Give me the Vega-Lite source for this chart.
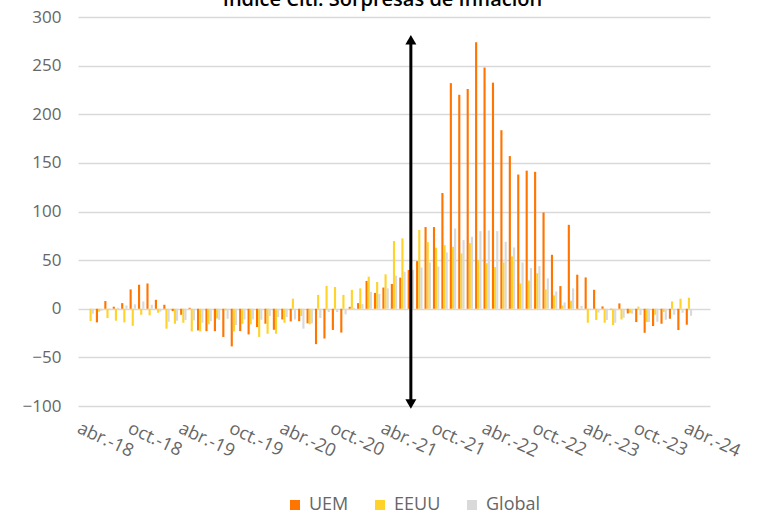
{
  "$schema": "https://vega.github.io/schema/vega-lite/v6.json",
  "autosize": {"type": "none"},
  "width": 632,
  "height": 389,
  "padding": {"left": 78, "top": 17, "right": 55, "bottom": 110},
  "background": "white",
  "title": {"text": "Índice Citi: Sorpresas de Inflación", "font": "Open Sans", "fontSize": 20, "fontWeight": 600, "color": "#000000", "anchor": "middle", "dx": -11.5, "offset": -18, "baseline": "alphabetic"},
  "config": {
    "view": {"stroke": null},
    "font": "Open Sans",
    "axis": {"labelFont": "Open Sans", "labelColor": "#666666", "labelFontSize": 17},
    "legend": {"labelFont": "Open Sans"}
  },
  "datasets": {
    "citi": [
      {"mes": "2018-05", "UEM": 0, "EEUU": -12.7, "Global": -5.1},
      {"mes": "2018-06", "UEM": -14, "EEUU": -3, "Global": -2},
      {"mes": "2018-07", "UEM": 7.9, "EEUU": -9.6, "Global": 0.5},
      {"mes": "2018-08", "UEM": 2.1, "EEUU": -12.3, "Global": 1},
      {"mes": "2018-09", "UEM": 5.8, "EEUU": -14, "Global": 3.4},
      {"mes": "2018-10", "UEM": 19.9, "EEUU": -17.5, "Global": 4.5},
      {"mes": "2018-11", "UEM": 24.7, "EEUU": -6.2, "Global": 7.5},
      {"mes": "2018-12", "UEM": 26, "EEUU": -6.8, "Global": 4.1},
      {"mes": "2019-01", "UEM": 9.2, "EEUU": -4.1, "Global": -3},
      {"mes": "2019-02", "UEM": 4.1, "EEUU": -20.5, "Global": -13.4},
      {"mes": "2019-03", "UEM": -2.4, "EEUU": -15.4, "Global": -12.3},
      {"mes": "2019-04", "UEM": -6.2, "EEUU": -14.4, "Global": -11.6},
      {"mes": "2019-05", "UEM": 1, "EEUU": -23.3, "Global": -12},
      {"mes": "2019-06", "UEM": -22.3, "EEUU": -23.3, "Global": -14.4},
      {"mes": "2019-07", "UEM": -23, "EEUU": -16, "Global": -12.7},
      {"mes": "2019-08", "UEM": -23, "EEUU": -10, "Global": -11.3},
      {"mes": "2019-09", "UEM": -29, "EEUU": -1.7, "Global": -10.3},
      {"mes": "2019-10", "UEM": -38.7, "EEUU": -23.3, "Global": -16.8},
      {"mes": "2019-11", "UEM": -23, "EEUU": -15.4, "Global": -11},
      {"mes": "2019-12", "UEM": -26.4, "EEUU": -16, "Global": -11},
      {"mes": "2020-01", "UEM": -18.8, "EEUU": -29, "Global": -11.3},
      {"mes": "2020-02", "UEM": -15.4, "EEUU": -25.7, "Global": -7.5},
      {"mes": "2020-03", "UEM": -21.6, "EEUU": -25.7, "Global": -8.6},
      {"mes": "2020-04", "UEM": -11, "EEUU": -14.4, "Global": -8.6},
      {"mes": "2020-05", "UEM": -13, "EEUU": 10.3, "Global": -11},
      {"mes": "2020-06", "UEM": -12.7, "EEUU": -7.5, "Global": -20.5},
      {"mes": "2020-07", "UEM": -15, "EEUU": -16, "Global": -15},
      {"mes": "2020-08", "UEM": -36.4, "EEUU": 14.3, "Global": -9.5},
      {"mes": "2020-09", "UEM": -30.6, "EEUU": 23.5, "Global": -3.4},
      {"mes": "2020-10", "UEM": -21.8, "EEUU": 22.4, "Global": -3.4},
      {"mes": "2020-11", "UEM": -24.5, "EEUU": 14.3, "Global": -5.8},
      {"mes": "2020-12", "UEM": 2, "EEUU": 19.4, "Global": 1},
      {"mes": "2021-01", "UEM": 5.8, "EEUU": 21, "Global": 4.8},
      {"mes": "2021-02", "UEM": 28.6, "EEUU": 33, "Global": 17.3},
      {"mes": "2021-03", "UEM": 16.3, "EEUU": 27.5, "Global": 15.3},
      {"mes": "2021-04", "UEM": 21.8, "EEUU": 35.4, "Global": 21},
      {"mes": "2021-05", "UEM": 25.5, "EEUU": 69.7, "Global": 34},
      {"mes": "2021-06", "UEM": 32, "EEUU": 72.4, "Global": 38},
      {"mes": "2021-07", "UEM": 39.8, "EEUU": 45, "Global": 40},
      {"mes": "2021-08", "UEM": 49, "EEUU": 81, "Global": 42.5},
      {"mes": "2021-09", "UEM": 84, "EEUU": 68.5, "Global": 47.6},
      {"mes": "2021-10", "UEM": 84, "EEUU": 62.7, "Global": 43.5},
      {"mes": "2021-11", "UEM": 119, "EEUU": 65.4, "Global": 57.9},
      {"mes": "2021-12", "UEM": 232, "EEUU": 63.7, "Global": 82.5},
      {"mes": "2022-01", "UEM": 220, "EEUU": 56.9, "Global": 70.6},
      {"mes": "2022-02", "UEM": 226, "EEUU": 67.5, "Global": 74},
      {"mes": "2022-03", "UEM": 274, "EEUU": 49.7, "Global": 79.8},
      {"mes": "2022-04", "UEM": 248, "EEUU": 46.9, "Global": 80.5},
      {"mes": "2022-05", "UEM": 232.5, "EEUU": 42.8, "Global": 79.8},
      {"mes": "2022-06", "UEM": 183.6, "EEUU": 47.6, "Global": 68.8},
      {"mes": "2022-07", "UEM": 157, "EEUU": 53.8, "Global": 63},
      {"mes": "2022-08", "UEM": 138, "EEUU": 26, "Global": 47.6},
      {"mes": "2022-09", "UEM": 142, "EEUU": 29, "Global": 41.8},
      {"mes": "2022-10", "UEM": 140.8, "EEUU": 36.6, "Global": 43.8},
      {"mes": "2022-11", "UEM": 99, "EEUU": 19.9, "Global": 31.2},
      {"mes": "2022-12", "UEM": 55.5, "EEUU": 13.7, "Global": 17.8},
      {"mes": "2023-01", "UEM": 23.3, "EEUU": 3.4, "Global": 6.5},
      {"mes": "2023-02", "UEM": 86.3, "EEUU": 8.2, "Global": 20.9},
      {"mes": "2023-03", "UEM": 35, "EEUU": -1, "Global": 3},
      {"mes": "2023-04", "UEM": 32.2, "EEUU": -14.4, "Global": -1.4},
      {"mes": "2023-05", "UEM": 19.5, "EEUU": -11.6, "Global": -4},
      {"mes": "2023-06", "UEM": 2.4, "EEUU": -14.4, "Global": -11.6},
      {"mes": "2023-07", "UEM": -0.5, "EEUU": -16.8, "Global": -14.4},
      {"mes": "2023-08", "UEM": 5.5, "EEUU": -11, "Global": -9.2},
      {"mes": "2023-09", "UEM": -4.8, "EEUU": -4.1, "Global": -5.1},
      {"mes": "2023-10", "UEM": -13.7, "EEUU": 2.1, "Global": -6.5},
      {"mes": "2023-11", "UEM": -24.7, "EEUU": -13.7, "Global": -13.7},
      {"mes": "2023-12", "UEM": -17.8, "EEUU": -6.2, "Global": -13.4},
      {"mes": "2024-01", "UEM": -15.4, "EEUU": -3.4, "Global": -11.3},
      {"mes": "2024-02", "UEM": -10.3, "EEUU": 7.5, "Global": -6.2},
      {"mes": "2024-03", "UEM": -21.9, "EEUU": 10.3, "Global": -4.1},
      {"mes": "2024-04", "UEM": -16.4, "EEUU": 11.3, "Global": -7.2}
    ],
    "flecha": [
      {"mes": "2021-07", "desde": -98, "hasta": 276.6}
    ]
  },
  "layer": [
    {
      "data": {"name": "citi"},
      "transform": [{"fold": ["UEM", "EEUU", "Global"], "as": ["serie", "valor"]}],
      "mark": {"type": "bar"},
      "encoding": {
        "x": {
          "field": "mes", "type": "ordinal",
          "scale": {"domain": ["2018-04","2018-05","2018-06","2018-07","2018-08","2018-09","2018-10","2018-11","2018-12","2019-01","2019-02","2019-03","2019-04","2019-05","2019-06","2019-07","2019-08","2019-09","2019-10","2019-11","2019-12","2020-01","2020-02","2020-03","2020-04","2020-05","2020-06","2020-07","2020-08","2020-09","2020-10","2020-11","2020-12","2021-01","2021-02","2021-03","2021-04","2021-05","2021-06","2021-07","2021-08","2021-09","2021-10","2021-11","2021-12","2022-01","2022-02","2022-03","2022-04","2022-05","2022-06","2022-07","2022-08","2022-09","2022-10","2022-11","2022-12","2023-01","2023-02","2023-03","2023-04","2023-05","2023-06","2023-07","2023-08","2023-09","2023-10","2023-11","2023-12","2024-01","2024-02","2024-03","2024-04","2024-05","2024-06"], "paddingInner": 0.24, "paddingOuter": 0.12},
          "axis": {
            "title": null, "domain": false, "ticks": false, "grid": false,
            "labelAngle": 25, "labelAlign": "left", "labelBaseline": "top", "labelPadding": 13,
            "labelOverlap": false, "labelFontSize": 18,
            "labelExpr": "substring(datum.value,5,7)=='04' ? 'abr.-' + substring(datum.value,2,4) : (substring(datum.value,5,7)=='10' ? 'oct.-' + substring(datum.value,2,4) : '')"
          }
        },
        "xOffset": {"field": "serie", "type": "nominal", "scale": {"domain": ["UEM", "EEUU", "Global"], "paddingInner": 0, "paddingOuter": 0}},
        "y": {
          "field": "valor", "type": "quantitative",
          "scale": {"domain": [-100, 300], "nice": false, "zero": false},
          "axis": {"title": null, "values": [-100, -50, 0, 50, 100, 150, 200, 250, 300], "domain": false, "ticks": false, "labelPadding": 17, "gridColor": "#d9d9d9", "gridWidth": 1.3, "labelFontSize": 17}
        },
        "color": {
          "field": "serie", "type": "nominal",
          "scale": {"domain": ["UEM", "EEUU", "Global"], "range": ["#ff7500", "#ffd329", "#d9d9d9"]},
          "legend": {"title": null, "orient": "none", "direction": "horizontal", "legendX": 208, "legendY": 479, "symbolType": "square", "symbolSize": 100, "symbolStrokeWidth": 0, "labelFontSize": 18, "labelColor": "#666666", "labelOffset": 5, "columnPadding": 22}
        }
      }
    },
    {
      "data": {"name": "flecha"},
      "mark": {"type": "rule", "color": "#000000", "strokeWidth": 3},
      "encoding": {
        "x": {"field": "mes", "type": "ordinal"},
        "y": {"field": "desde", "type": "quantitative"},
        "y2": {"field": "hasta"}
      }
    },
    {
      "data": {"name": "flecha"},
      "mark": {"type": "point", "shape": "triangle-up", "filled": true, "color": "#000000", "size": 121, "opacity": 1},
      "encoding": {
        "x": {"field": "mes", "type": "ordinal"},
        "y": {"field": "hasta", "type": "quantitative"}
      }
    },
    {
      "data": {"name": "flecha"},
      "mark": {"type": "point", "shape": "triangle-down", "filled": true, "color": "#000000", "size": 121, "opacity": 1},
      "encoding": {
        "x": {"field": "mes", "type": "ordinal"},
        "y": {"field": "desde", "type": "quantitative"}
      }
    }
  ]
}
